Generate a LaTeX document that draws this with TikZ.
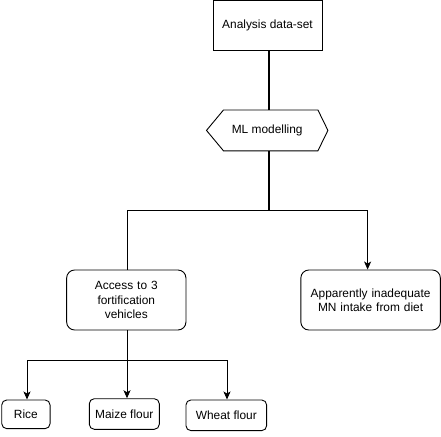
\documentclass[tikz,border=0pt]{standalone}
\usepackage{fontspec}
\setmainfont{Liberation Sans}
\usetikzlibrary{arrows.meta,calc}
\begin{document}
\begin{tikzpicture}[x=1pt,y=-1pt,
  every node/.style={font=\fontsize{11.9}{14.3}\selectfont, align=center, inner sep=0pt},
  sqbox/.style={draw, line width=0.9pt},
  rbox/.style={draw, line width=0.9pt, rounded corners=8pt},
  sbox/.style={draw, line width=0.9pt, rounded corners=5pt},
  conn/.style={line width=0.9pt},
  arr/.style={line width=0.9pt, -{Stealth[length=8pt,width=7pt,inset=2pt]}},
  trunk/.style={line width=1.8pt}]
\useasboundingbox (0,0) rectangle (441,436);
\node[sqbox, minimum width=109pt, minimum height=49.5pt] (top) at (267.5,25.3) {Analysis data-set};
\node[minimum width=121pt, minimum height=40.5pt] (hex) at (267.2,130.4) {ML modelling};
\draw[line width=0.9pt] (hex.west) -- ($(hex.north west)+(17,0)$) -- ($(hex.north east)+(-10,0)$) -- (hex.east) -- ($(hex.south east)+(-10,0)$) -- ($(hex.south west)+(17,0)$) -- cycle;
\node[rbox, minimum width=119.3pt, minimum height=60pt, text width=100pt] (acc) at (126.3,300) {Access to 3\\fortification\\vehicles};
\node[rbox, minimum width=139.5pt, minimum height=60pt, text width=130pt] (app) at (370.6,300) {Apparently inadequate\\MN intake from diet};
\node[sbox, minimum width=48.3pt, minimum height=28.7pt] (rice) at (25.9,414.3) {Rice};
\node[sbox, minimum width=70pt, minimum height=30.6pt] (maize) at (124.3,414) {Maize flour};
\node[sbox, minimum width=80.7pt, minimum height=30.7pt] (wheat) at (226.3,415.3) {Wheat flour};
\coordinate (s1) at (269,210.7);
\coordinate (s2) at (127,360.7);
\draw[trunk] (top.south -| s1) -- (hex.north -| s1);
\draw[trunk] (hex.south -| s1) -- (s1);
\draw[conn] (s1) -| (acc.north -| s2);
\draw[arr] (s1) -| ([xshift=-3pt]app.north);
\draw[conn] (acc.south -| s2) -- (s2);
\draw[arr] (s2) -- (maize.north -| s2);
\draw[arr] (s2) -| ([xshift=1.1pt]rice.north);
\draw[arr] (s2) -| ([xshift=0.7pt]wheat.north);
\end{tikzpicture}
\end{document}
